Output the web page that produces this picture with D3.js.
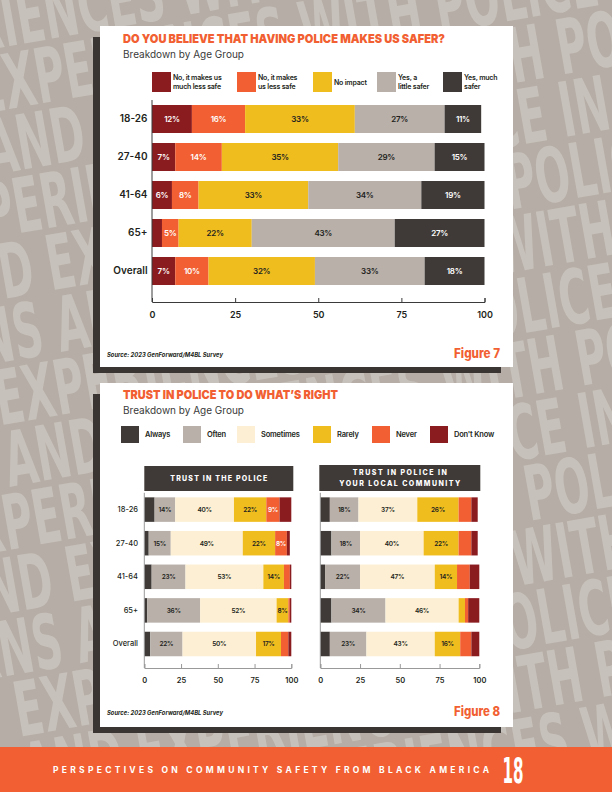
<!DOCTYPE html>
<html>
<head>
<meta charset="utf-8">
<script src="https://cdn.jsdelivr.net/npm/d3@7"></script>
<style>
html, body { margin: 0; padding: 0; background: #b6aea7; }
svg { display: block; }
</style>
</head>
<body>
<svg id="page"></svg>
<script>
// ---- data ----
var ageGroups = ['18-26', '27-40', '41-64', '65+', 'Overall'];
var xTicks = [0, 25, 50, 75, 100];

var safetyKeys = ['No, it makes us much less safe', 'No, it makes us less safe', 'No impact', 'Yes, a little safer', 'Yes, much safer'];
var safetyLegend = [['No, it makes us', 'much less safe'], ['No, it makes', 'us less safe'], ['No impact'], ['Yes, a', 'little safer'], ['Yes, much', 'safer']];
var safetyValues = [
    [12, 16, 33, 27, 11],
    [7, 14, 35, 29, 15],
    [6, 8, 33, 34, 19],
    [3, 5, 22, 43, 27],
    [7, 10, 32, 33, 18]
];

var trustKeys = ['Always', 'Often', 'Sometimes', 'Rarely', 'Never', "Don't Know"];
var trustPolice = [
    [7, 14, 40, 22, 9, 8],
    [3, 15, 49, 22, 8, 2],
    [5, 23, 53, 14, 4, 1],
    [2, 36, 52, 8, 1, 1],
    [4, 22, 50, 17, 5, 2]
];
var trustLocal = [
    [6, 18, 37, 26, 8, 4],
    [7, 18, 40, 22, 8, 4],
    [3, 22, 47, 14, 8, 6],
    [7, 34, 46, 4, 2, 7],
    [6, 23, 43, 16, 7, 5]
];

// ---- look ----
var $c = {
    darkRed: '#8a1c20', orange: '#f15f32', yellow: '#f0bd1f',
    grey: '#b8b0a9', dark: '#3f3a37', cream: '#fcefd3', ink: '#231f20'
};
var $font = 'Inter, "Noto Sans", sans-serif';
var $svg = d3.select('#page').attr('width', 612).attr('height', 792);

function drawBackground () {
    $svg.append('rect').attr('width', 612).attr('height', 792).attr('fill', '#b5ada6');
    var phrase = "CONCERNS AND EXPERIENCES WITH POLICE IN AMERICA: A NATIONWIDE PEOPLE'S ";
    var g = $svg.append('g').attr('transform', 'rotate(-10 306 396)');
    d3.range(-3, 15).forEach((i) => {
        g.append('text')
            .attr('transform', `translate(${-460 + (i * 113) % 300},${i * 62}) scale(0.6,1)`)
            .attr('font-family', '"DejaVu Sans Condensed", "DejaVu Sans", sans-serif')
            .attr('font-weight', 'bold')
            .attr('font-size', 76)
            .attr('fill', '#c7c1bb')
            .text(phrase + phrase);
    });
}

function drawPanel (x, y, w, h) {
    $svg.append('rect').attr('x', x - 7).attr('y', y + 11).attr('width', w - 5).attr('height', h - 5).attr('fill', '#3a3532');
    $svg.append('rect').attr('x', x).attr('y', y).attr('width', w).attr('height', h).attr('fill', '#fff');
}

function title (txt, y, len) {
    $svg.append('text').attr('x', 123).attr('y', y)
        .attr('font-family', $font).attr('font-weight', 900).attr('font-size', 12)
        .attr('fill', $c.orange).attr('textLength', len).attr('lengthAdjust', 'spacingAndGlyphs')
        .text(txt);
    $svg.append('text').attr('x', 123).attr('y', y + 15)
        .attr('font-family', $font).attr('font-size', 10).attr('fill', '#3a3a3a')
        .text('Breakdown by Age Group');
}

function footnote (y, fig) {
    $svg.append('text').attr('x', 107).attr('y', y)
        .attr('font-family', $font).attr('font-weight', 700).attr('font-style', 'italic')
        .attr('font-size', 6).attr('fill', $c.ink)
        .attr('textLength', 116).attr('lengthAdjust', 'spacingAndGlyphs')
        .text('Source: 2023 GenForward/M4BL Survey');
    $svg.append('text').attr('x', 454).attr('y', y + 1)
        .attr('font-family', $font).attr('font-weight', 800).attr('font-size', 13)
        .attr('fill', $c.orange).attr('textLength', 46).attr('lengthAdjust', 'spacingAndGlyphs')
        .text(fig);
}

function drawBars (cfg) {
    var g = $svg.append('g');
    var x = d3.scaleLinear().domain([0, 100]).range(cfg.xRange);
    var y = d3.scaleBand().domain(ageGroups).range(cfg.yRange)
        .paddingInner(cfg.pad).paddingOuter(cfg.pad / 2);
    var series = d3.stack().keys(d3.range(cfg.colors.length)).value((d, k) => d[k])(cfg.values);

    var cells = g.selectAll('g.layer').data(series).join('g')
        .attr('class', 'layer')
        .selectAll('g').data((s) => s.map((p, i) => ({p: p, i: i, k: s.key})))
        .join('g');

    cells.append('rect')
        .attr('x', (d) => x(d.p[0]))
        .attr('y', (d) => y(ageGroups[d.i]))
        .attr('width', (d) => x(d.p[1]) - x(d.p[0]))
        .attr('height', y.bandwidth())
        .attr('fill', (d) => cfg.colors[d.k]);

    cells.filter((d) => cfg.labelKeys.indexOf(d.k) >= 0 && d.p[1] - d.p[0] >= cfg.labelMin)
        .append('text')
        .attr('x', (d) => (x(d.p[0]) + x(d.p[1])) / 2)
        .attr('y', (d) => y(ageGroups[d.i]) + y.bandwidth() / 2)
        .attr('dy', '0.36em')
        .attr('text-anchor', 'middle')
        .attr('font-family', $font).attr('font-weight', 600)
        .attr('font-size', cfg.labelSize).attr('letter-spacing', -0.3)
        .attr('fill', (d) => cfg.labelColors[d.k])
        .text((d) => (d.p[1] - d.p[0]) + '%');

    // vertical axis line
    g.append('line')
        .attr('x1', x(0)).attr('x2', x(0))
        .attr('y1', cfg.yRange[0]).attr('y2', cfg.axisY)
        .attr('stroke', cfg.axisColor);

    var ax = g.append('g').attr('transform', `translate(0,${cfg.axisY})`)
        .call(d3.axisBottom(x).tickValues(xTicks).tickSize(-4).tickPadding(cfg.tickPad));
    ax.selectAll('path, line').attr('stroke', cfg.axisColor);
    ax.selectAll('text')
        .attr('font-family', $font).attr('font-weight', 600)
        .attr('font-size', cfg.tickSize).attr('fill', $c.ink);

    if (cfg.showAges) {
        var ay = g.append('g').attr('transform', `translate(${cfg.ageX},0)`)
            .call(d3.axisLeft(y).tickSize(0).tickPadding(0));
        ay.select('.domain').remove();
        ay.selectAll('text')
            .attr('font-family', $font).attr('font-weight', cfg.ageWeight)
            .attr('font-size', cfg.ageSize).attr('fill', $c.ink);
    }
}

function legend (keys, colors, lines, xs, y, w, h, off, size) {
    keys.forEach((k, i) => {
        $svg.append('rect').attr('x', xs[i]).attr('y', y).attr('width', w).attr('height', h).attr('fill', colors[i]);
        var ls = lines[i];
        var mid = y + h / 2;
        ls.forEach((t, j) => {
            $svg.append('text')
                .attr('x', xs[i] + off)
                .attr('y', mid + (j - (ls.length - 1) / 2) * (size + 2.5))
                .attr('dy', '0.36em')
                .attr('font-family', $font).attr('font-weight', 600)
                .attr('font-size', size).attr('fill', $c.ink)
                .attr('letter-spacing', -0.2)
                .text(t);
        });
    });
}

function header (x, y, w, h, lines, lens) {
    $svg.append('rect').attr('x', x).attr('y', y).attr('width', w).attr('height', h).attr('fill', $c.dark);
    lines.forEach((t, j) => {
        $svg.append('text')
            .attr('x', x + w / 2 - lens[j] / 2)
            .attr('y', y + h / 2 + (j - (lines.length - 1) / 2) * 11)
            .attr('dy', '0.36em')
            .attr('font-family', $font).attr('font-weight', 800)
            .attr('font-size', 7).attr('fill', '#fff')
            .attr('textLength', lens[j]).attr('lengthAdjust', 'spacing')
            .text(t);
    });
}

function drawFooter () {
    $svg.append('rect').attr('x', 0).attr('y', 747).attr('width', 612).attr('height', 45).attr('fill', $c.orange);
    $svg.append('text').attr('x', 53).attr('y', 773)
        .attr('font-family', $font).attr('font-weight', 700).attr('font-size', 8.5)
        .attr('fill', '#fff').attr('textLength', 436).attr('lengthAdjust', 'spacing')
        .text('PERSPECTIVES ON COMMUNITY SAFETY FROM BLACK AMERICA');
    $svg.append('text')
        .attr('transform', 'translate(513,783) scale(0.48,1)')
        .attr('text-anchor', 'middle')
        .attr('font-family', '"DejaVu Sans Condensed", "DejaVu Sans", sans-serif')
        .attr('font-weight', 'bold').attr('font-size', 35).attr('fill', '#fff')
        .text('18');
}

function init () {
    drawBackground();

    // figure 7
    drawPanel(100, 26, 413, 341);
    title('DO YOU BELIEVE THAT HAVING POLICE MAKES US SAFER?', 43, 322);
    var safetyColors = [$c.darkRed, $c.orange, $c.yellow, $c.grey, $c.dark];
    legend(safetyKeys, safetyColors, safetyLegend, [152, 237, 313, 377, 443], 72, 19, 20, 21, 7);
    drawBars({
        values: safetyValues, colors: safetyColors,
        labelColors: ['#fff', '#fff', $c.ink, $c.ink, '#fff'],
        labelKeys: [0, 1, 2, 3, 4], labelMin: 5, labelSize: 8,
        xRange: [152, 484.5], yRange: [100, 290], pad: 10 / 38,
        axisY: 302, axisColor: '#3a3a3a', tickPad: 9.5, tickSize: 9,
        showAges: true, ageX: 147.5, ageSize: 10, ageWeight: 600
    });
    footnote(357, 'Figure 7');

    // figure 8
    drawPanel(100, 383, 413, 344);
    title('TRUST IN POLICE TO DO WHAT\u2019S RIGHT', 399, 215);
    var trustColors = [$c.dark, $c.grey, $c.cream, $c.yellow, $c.orange, $c.darkRed];
    legend(trustKeys, trustColors, trustKeys.map((k) => [k]), [121, 183, 237, 313, 372, 430], 426, 18, 17, 24, 7.5);

    header(144.3, 466, 149, 25, ['TRUST IN THE POLICE'], [97]);
    header(319.3, 465, 161, 26, ['TRUST IN POLICE IN', 'YOUR LOCAL COMMUNITY'], [94, 121]);

    var trustCommon = {
        colors: trustColors,
        labelColors: [$c.ink, $c.ink, $c.ink, $c.ink, '#fff', '#fff'],
        labelKeys: [1, 2, 3, 4], labelSize: 6.5,
        yRange: [492.8, 660.8], pad: 9.1 / 33.6,
        axisY: 668, axisColor: '#999', tickPad: 9.5, tickSize: 7.5,
        ageX: 138, ageSize: 7.5, ageWeight: 500
    };
    drawBars(Object.assign({}, trustCommon, {
        values: trustPolice, labelMin: 8, xRange: [144.3, 291.3], showAges: true
    }));
    drawBars(Object.assign({}, trustCommon, {
        values: trustLocal, labelMin: 9, xRange: [320.3, 479.3], showAges: false
    }));
    footnote(715, 'Figure 8');

    drawFooter();
}

init();
</script>
</body>
</html>
